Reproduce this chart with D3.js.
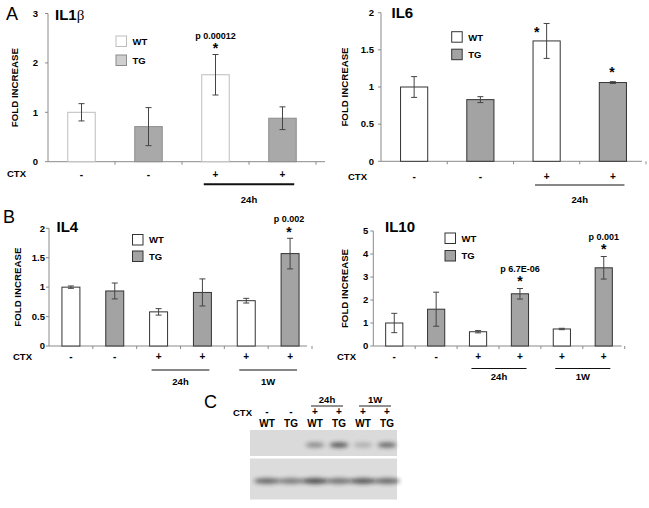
<!DOCTYPE html>
<html>
<head>
<meta charset="utf-8">
<script src="https://d3js.org/d3.v7.min.js"></script>
<style>
  body { margin: 0; background: #fff; }
  svg { font-family: "Liberation Sans", Arial, sans-serif; }
</style>
</head>
<body>
<svg id="fig" width="649" height="508"></svg>
<script>
// ---- data ----
var ctxA = ["-", "-", "+", "+"];
var genoA = ["WT", "TG", "WT", "TG"];
var timesA = [{label: "24h", from: 2, to: 3}];

var ctxB = ["-", "-", "+", "+", "+", "+"];
var genoB = ["WT", "TG", "WT", "TG", "WT", "TG"];
var timesB = [{label: "24h", from: 2, to: 3}, {label: "1W", from: 4, to: 5}];

var il1bMean = [1.0, 0.71, 1.76, 0.88];
var il1bErr = [0.175, 0.385, 0.41, 0.23];
var il1bTicks = [0, 1, 2, 3];
var il1bSig = [{bar: 2, p: "p 0.00012"}];

var il6Mean = [1.0, 0.83, 1.62, 1.06];
var il6Err = [0.14, 0.04, 0.235, 0.012];
var il6Ticks = [0, 0.5, 1, 1.5, 2];
var il6Sig = [{bar: 2, p: ""}, {bar: 3, p: ""}];

var il4Mean = [1.0, 0.935, 0.58, 0.91, 0.77, 1.57];
var il4Err = [0.02, 0.135, 0.055, 0.23, 0.04, 0.26];
var il4Ticks = [0, 0.5, 1, 1.5, 2];
var il4Sig = [{bar: 5, p: "p 0.002"}];

var il10Mean = [1.0, 1.6, 0.62, 2.27, 0.74, 3.4];
var il10Err = [0.42, 0.74, 0.05, 0.23, 0.03, 0.49];
var il10Ticks = [0, 1, 2, 3, 4, 5];
var il10Sig = [{bar: 3, p: "p 6.7E-06"}, {bar: 5, p: "p 0.001"}];

// western blot (panel C): relative band darkness per lane
var blotCtx = ["-", "-", "+", "+", "+", "+"];
var blotGeno = ["WT", "TG", "WT", "TG", "WT", "TG"];
var blotTimes = [{label: "24h", from: 2, to: 3}, {label: "1W", from: 4, to: 5}];
var blotUpper = [0, 0, 0.45, 0.75, 0.25, 0.65];
var blotLower = [0.65, 0.55, 0.8, 0.6, 0.75, 0.65];

var svg = d3.select("#fig");
var fmt = d3.format("~g");

function barChart(o) {
  var g = svg.append("g");
  var n = o.mean.length;
  var x = d3.scaleBand().domain(d3.range(n))
    .range([o.left, o.right]).paddingInner(0.59).paddingOuter(0.295);
  var y = d3.scaleLinear().domain([0, o.max]).range([o.bottom, o.top]);
  var bw = x.bandwidth();
  var cx = function (i) { return x(i) + bw / 2; };

  // axes
  g.append("line").attr("x1", o.left).attr("x2", o.left)
    .attr("y1", y(o.max)).attr("y2", y(0)).attr("stroke", "#8a8a8a");
  g.append("line").attr("x1", o.left).attr("x2", o.right + (o.axisExtra || 0))
    .attr("y1", y(0)).attr("y2", y(0)).attr("stroke", "#8a8a8a");
  g.selectAll(".yt").data(o.ticks).enter().append("line")
    .attr("x1", o.left - 3).attr("x2", o.left)
    .attr("y1", d => y(d)).attr("y2", d => y(d)).attr("stroke", "#8a8a8a");
  g.selectAll(".yl").data(o.ticks).enter().append("text")
    .attr("x", o.left - o.labelGap).attr("y", d => y(d)).attr("dy", "0.35em")
    .attr("text-anchor", "end").attr("font-size", 9.5).attr("font-weight", "bold")
    .text(d => fmt(d));
  g.selectAll(".xt").data(d3.range(1, n + 1)).enter().append("line")
    .attr("x1", d => o.left + x.step() * d).attr("x2", d => o.left + x.step() * d)
    .attr("y1", y(0)).attr("y2", y(0) + 3).attr("stroke", "#8a8a8a");

  // bars
  g.selectAll(".bar").data(o.mean).enter().append("rect")
    .attr("x", (d, i) => x(i)).attr("y", d => y(d))
    .attr("width", bw).attr("height", d => y(0) - y(d))
    .attr("fill", (d, i) => o.geno[i] === "WT" ? "#fff" : o.tgFill)
    .attr("stroke", (d, i) => o.geno[i] === "WT" ? o.wtStroke : o.tgStroke)
    .attr("stroke-width", 1);

  // error bars
  var eb = g.selectAll(".err").data(o.mean).enter().append("g").attr("stroke", "#444");
  eb.append("line").attr("x1", (d, i) => cx(i)).attr("x2", (d, i) => cx(i))
    .attr("y1", (d, i) => y(d - o.err[i])).attr("y2", (d, i) => y(d + o.err[i]));
  eb.append("line").attr("x1", (d, i) => cx(i) - 3).attr("x2", (d, i) => cx(i) + 3)
    .attr("y1", (d, i) => y(d + o.err[i])).attr("y2", (d, i) => y(d + o.err[i]));
  eb.append("line").attr("x1", (d, i) => cx(i) - 3).attr("x2", (d, i) => cx(i) + 3)
    .attr("y1", (d, i) => y(d - o.err[i])).attr("y2", (d, i) => y(d - o.err[i]));

  // significance marks
  o.sig.forEach(function (s, k) {
    var off = (o.starPlace && o.starPlace[k]) || {dx: 0, dy: -9};
    var sx = cx(s.bar) + off.dx;
    var sy = y(o.mean[s.bar] + o.err[s.bar]) + off.dy;
    g.append("text").attr("x", sx).attr("y", sy + 7.5).attr("text-anchor", "middle")
      .attr("font-size", 14).attr("font-weight", "bold").text("*");
    if (s.p) {
      g.append("text").attr("x", sx).attr("y", sy - 10).attr("dy", "0.35em")
        .attr("text-anchor", "middle").attr("font-size", 9).attr("font-weight", "bold")
        .text(s.p);
    }
  });

  // title
  var t = g.append("text").attr("x", o.titleX).attr("y", o.titleY)
    .attr("font-size", 15).attr("font-weight", "bold").text(o.title);
  if (o.titleSym) {
    t.append("tspan").attr("font-weight", "normal")
      .attr("font-family", "'Liberation Serif', serif").text(o.titleSym);
  }

  // y label
  g.append("text").attr("transform", "translate(" + o.ylabX + "," + (y(0) + y(o.max)) / 2 + ") rotate(-90)")
    .attr("dy", "0.35em").attr("text-anchor", "middle")
    .attr("font-size", 9.7).attr("font-weight", "bold").text("FOLD INCREASE");

  // legend
  ["WT", "TG"].forEach(function (k, i) {
    var ly = o.legY + i * o.legStep;
    g.append("rect").attr("x", o.legX).attr("y", ly).attr("width", 10.5).attr("height", 10.5)
      .attr("fill", k === "WT" ? "#fff" : o.legTgFill)
      .attr("stroke", k === "WT" ? o.wtStroke : o.tgStroke);
    g.append("text").attr("x", o.legX + 16.5).attr("y", ly + 5.5).attr("dy", "0.35em")
      .attr("font-size", 9.5).attr("font-weight", "bold").text(k);
  });

  // CTX row
  g.append("text").attr("x", o.ctxX).attr("y", o.ctxY).attr("dy", "0.35em")
    .attr("font-size", 9.5).attr("font-weight", "bold").text("CTX");
  g.selectAll(".ctx").data(o.ctx).enter().append("text")
    .attr("x", (d, i) => cx(i)).attr("y", o.ctxY).attr("dy", "0.35em")
    .attr("text-anchor", "middle").attr("font-size", 10).attr("font-weight", "bold")
    .text(d => d);

  // time groups
  o.times.forEach(function (tm) {
    var x1 = x(tm.from) + 2, x2 = x(tm.to) + bw - 2;
    g.append("line").attr("x1", x1).attr("x2", x2).attr("y1", o.lineY).attr("y2", o.lineY)
      .attr("stroke", "#111").attr("stroke-width", o.lineW);
    g.append("text").attr("x", (x1 + x2) / 2).attr("y", o.lineY + o.timeDy).attr("dy", "0.35em")
      .attr("text-anchor", "middle").attr("font-size", 9.5).attr("font-weight", "bold").text(tm.label);
  });
}

// panel letters
[["A", 6, 20], ["B", 3, 223], ["C", 204, 408]].forEach(function (p) {
  svg.append("text").attr("x", p[1]).attr("y", p[2]).attr("font-size", 18).text(p[0]);
});

barChart({
  mean: il1bMean, err: il1bErr, ticks: il1bTicks, sig: il1bSig, geno: genoA, ctx: ctxA, times: timesA,
  max: 3, left: 48, right: 316, top: 13.5, bottom: 161.7, axisExtra: 9, labelGap: 10,
  tgFill: "#a9a9a9", legTgFill: "#cfcfcf", wtStroke: "#bdbdbd", tgStroke: "#8c8c8c",
  title: "IL1", titleSym: "\u03b2", titleX: 55, titleY: 20, ylabX: 15,
  legX: 116, legY: 36, legStep: 19,
  ctxX: 7, ctxY: 174, lineY: 184.3, lineW: 2, timeDy: 15
});

barChart({
  mean: il6Mean, err: il6Err, ticks: il6Ticks, sig: il6Sig, geno: genoA, ctx: ctxA, times: timesA,
  max: 2, left: 381, right: 646, top: 12.7, bottom: 161.3, axisExtra: -4, labelGap: 7,
  tgFill: "#a3a3a3", legTgFill: "#a3a3a3", wtStroke: "#333", tgStroke: "#333",
  starPlace: [{dx: -10, dy: 6}, {dx: -1, dy: -12}],
  title: "IL6", titleX: 391.5, titleY: 17.5, ylabX: 345,
  legX: 451.7, legY: 31.7, legStep: 17.5,
  ctxX: 348, ctxY: 176.7, lineY: 185, lineW: 1.2, timeDy: 15
});

barChart({
  mean: il4Mean, err: il4Err, ticks: il4Ticks, sig: il4Sig, geno: genoB, ctx: ctxB, times: timesB,
  max: 2, left: 49, right: 312, top: 228.3, bottom: 346, axisExtra: -5, labelGap: 4,
  tgFill: "#a3a3a3", legTgFill: "#a3a3a3", wtStroke: "#333", tgStroke: "#333",
  starPlace: [{dx: -1, dy: -9}],
  title: "IL4", titleX: 56.5, titleY: 231.7, ylabX: 18,
  legX: 132.5, legY: 234.5, legStep: 16.5,
  ctxX: 13, ctxY: 356.7, lineY: 370, lineW: 1.2, timeDy: 12
});

barChart({
  mean: il10Mean, err: il10Err, ticks: il10Ticks, sig: il10Sig, geno: genoB, ctx: ctxB, times: timesB,
  max: 5, left: 373.3, right: 624.7, top: 231, bottom: 346, axisExtra: -3, labelGap: 5,
  tgFill: "#a3a3a3", legTgFill: "#a3a3a3", wtStroke: "#333", tgStroke: "#333",
  starPlace: [{dx: 0, dy: -10}, {dx: 0, dy: -10}],
  title: "IL10", titleX: 385, titleY: 231.7, ylabX: 345,
  legX: 445, legY: 233, legStep: 17.5,
  ctxX: 337, ctxY: 356.5, lineY: 368.5, lineW: 1.2, timeDy: 8
});

// ---- panel C: western blot ----
(function () {
  var g = svg.append("g");
  var lane = d3.scalePoint().domain(d3.range(6)).range([267, 387]);
  var defs = svg.append("defs");
  defs.append("filter").attr("id", "blur").attr("x", "-50%").attr("y", "-150%")
    .attr("width", "200%").attr("height", "400%")
    .append("feGaussianBlur").attr("stdDeviation", 2);

  g.append("text").attr("x", 233).attr("y", 413).attr("dy", "0.35em")
    .attr("font-size", 9.5).attr("font-weight", "bold").text("CTX");
  g.selectAll(".bs").data(blotCtx).enter().append("text")
    .attr("x", (d, i) => lane(i)).attr("y", 411.5).attr("dy", "0.35em")
    .attr("text-anchor", "middle").attr("font-size", 10).attr("font-weight", "bold").text(d => d);
  g.selectAll(".bg").data(blotGeno).enter().append("text")
    .attr("x", (d, i) => lane(i)).attr("y", 423.3).attr("dy", "0.35em")
    .attr("text-anchor", "middle").attr("font-size", 10).attr("font-weight", "bold").text(d => d);
  blotTimes.forEach(function (tm) {
    var x1 = lane(tm.from) - 4, x2 = lane(tm.to) + 4;
    g.append("line").attr("x1", x1).attr("x2", x2).attr("y1", 406).attr("y2", 406)
      .attr("stroke", "#222").attr("stroke-width", 1);
    g.append("text").attr("x", (x1 + x2) / 2).attr("y", 400).attr("dy", "0.35em")
      .attr("text-anchor", "middle").attr("font-size", 9.5).attr("font-weight", "bold").text(tm.label);
  });

  g.append("rect").attr("x", 250).attr("y", 430).attr("width", 147).attr("height", 26).attr("fill", "#dadada");
  g.append("rect").attr("x", 250).attr("y", 458.5).attr("width", 147).attr("height", 41).attr("fill", "#dcdcdc");

  g.selectAll(".up").data(blotUpper).enter().append("ellipse")
    .attr("cx", (d, i) => lane(i)).attr("cy", 445).attr("rx", 9.5).attr("ry", 2.4)
    .attr("fill", "#222").attr("opacity", d => d).attr("filter", "url(#blur)");
  g.selectAll(".lo").data(blotLower).enter().append("ellipse")
    .attr("cx", (d, i) => lane(i)).attr("cy", 481).attr("rx", 13).attr("ry", 2.8)
    .attr("fill", "#222").attr("opacity", d => d).attr("filter", "url(#blur)");
})();
</script>
</body>
</html>
